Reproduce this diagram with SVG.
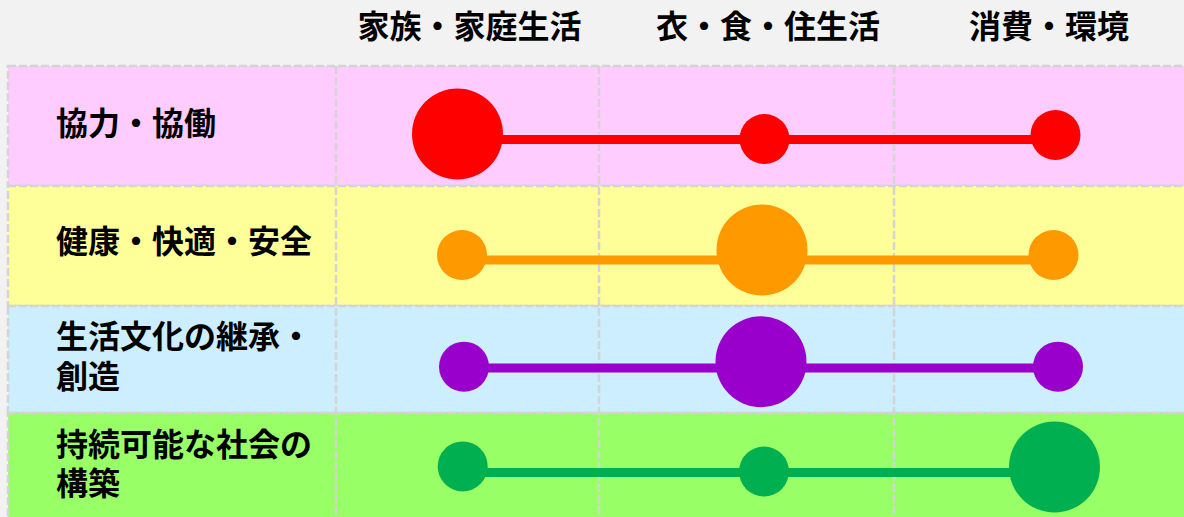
<svg xmlns="http://www.w3.org/2000/svg" width="1184" height="517" viewBox="0 0 1184 517">
<style>
.hdr{font-family:"Noto Sans CJK JP","Noto Sans CJK SC",sans-serif;font-weight:700;font-size:32px;fill:#000;text-anchor:middle}
.lbl{font-family:"Noto Sans CJK JP","Noto Sans CJK SC",sans-serif;font-weight:700;font-size:32px;fill:#000}
.cell{stroke:#d4d4d4;stroke-width:2.5;stroke-dasharray:8 3}
.div{stroke:#d4d4d4;stroke-width:2.5;stroke-dasharray:8 3;fill:none}
.ln{stroke-width:9;fill:none}
</style>
<rect x="0" y="0" width="1184" height="517" fill="#f2f2f2"/>
<g id="table">
<rect class="cell" x="8" y="66" width="1190" height="120" fill="#ffccff"/>
<rect class="cell" x="8" y="186" width="1190" height="120" fill="#ffff99"/>
<rect class="cell" x="8" y="306" width="1190" height="107" fill="#cceeff"/>
<rect class="cell" x="8" y="413" width="1190" height="110" fill="#99ff66"/>
<line class="div" x1="336" y1="66" x2="336" y2="517"/>
<line class="div" x1="599" y1="66" x2="599" y2="517"/>
<line class="div" x1="894" y1="66" x2="894" y2="517"/>
</g>
<g id="headers">
<text class="hdr" x="469.5" y="38">家族・家庭生活</text>
<text class="hdr" x="768" y="38">衣・食・住生活</text>
<text class="hdr" x="1049" y="38">消費・環境</text>
</g>
<g id="labels">
<text class="lbl" x="56" y="135">協力・協働</text>
<text class="lbl" x="56" y="253">健康・快適・安全</text>
<text class="lbl" x="56" y="348">生活文化の継承・</text>
<text class="lbl" x="56" y="388">創造</text>
<text class="lbl" x="56" y="456">持続可能な社会の</text>
<text class="lbl" x="56" y="495">構築</text>
</g>
<g id="connectors">
<line class="ln" stroke="#ff0000" x1="457.5" y1="139.5" x2="1055.5" y2="139.5"/>
<line class="ln" stroke="#ff9900" x1="462" y1="260" x2="1053.5" y2="260"/>
<line class="ln" stroke="#9900cc" x1="464" y1="368" x2="1058" y2="368"/>
<line class="ln" stroke="#00b050" x1="462.7" y1="472.5" x2="1054.5" y2="472.5"/>
</g>
<g id="row1" fill="#ff0000">
<circle id="r1c1" cx="457.5" cy="134" r="45.5"/>
<circle id="r1c2" cx="764.5" cy="139" r="25"/>
<circle id="r1c3" cx="1055.5" cy="135" r="25"/>
</g>
<g id="row2" fill="#ff9900">
<circle id="r2c1" cx="462" cy="255" r="25"/>
<circle id="r2c2" cx="762" cy="250" r="45.5"/>
<circle id="r2c3" cx="1053.5" cy="255" r="25"/>
</g>
<g id="row3" fill="#9900cc">
<circle id="r3c1" cx="464" cy="366.7" r="25"/>
<circle id="r3c2" cx="761" cy="361.7" r="45.5"/>
<circle id="r3c3" cx="1058" cy="366.7" r="25"/>
</g>
<g id="row4" fill="#00b050">
<circle id="r4c1" cx="462.7" cy="466.4" r="25"/>
<circle id="r4c2" cx="764" cy="471.5" r="25"/>
<circle id="r4c3" cx="1054.5" cy="467" r="45.5"/>
</g>
</svg>
